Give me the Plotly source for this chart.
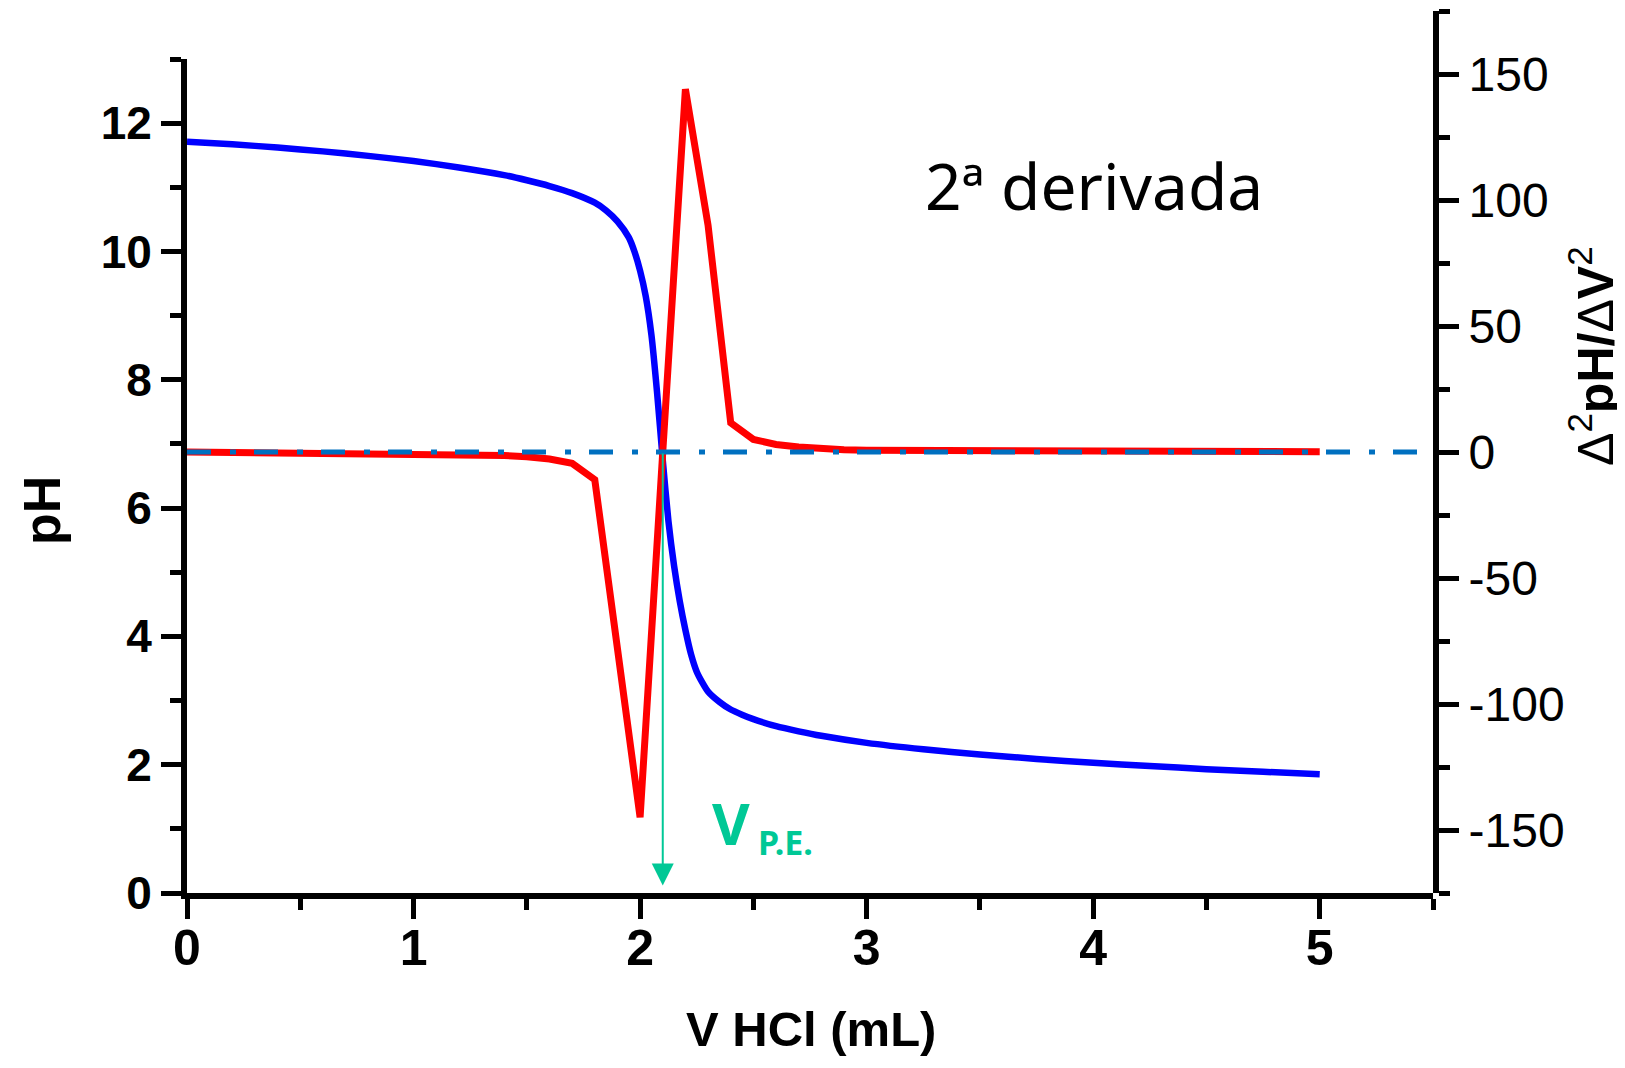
import plotly.graph_objects as go

# ---- data ----
v_ph = [0.0, 0.2, 0.4, 0.6, 0.8, 1.0, 1.2, 1.4, 1.5, 1.6, 1.7, 1.8, 1.85, 1.9, 1.95,
        1.975, 2.0, 2.025, 2.05, 2.075, 2.1, 2.125, 2.15, 2.175, 2.2, 2.225, 2.25,
        2.275, 2.3, 2.35, 2.4, 2.45, 2.5, 2.6, 2.7, 2.8, 3.0, 3.25, 3.5, 3.75, 4.0,
        4.25, 4.5, 4.75, 5.0]
ph = [11.71, 11.67, 11.62, 11.56, 11.49, 11.41, 11.31, 11.19, 11.11, 11.02, 10.91,
      10.76, 10.64, 10.47, 10.22, 10.0, 9.70, 9.30, 8.70, 7.80, 6.75, 5.80, 5.10,
      4.55, 4.10, 3.72, 3.45, 3.28, 3.14, 2.98, 2.86, 2.78, 2.71, 2.60, 2.52, 2.45,
      2.34, 2.24, 2.16, 2.09, 2.03, 1.98, 1.93, 1.89, 1.85]

v_d2 = [0.0, 0.5, 1.0, 1.2, 1.3, 1.4, 1.5, 1.6, 1.7, 1.8, 1.9, 2.0, 2.1, 2.2, 2.3,
        2.4, 2.5, 2.6, 2.7, 2.8, 2.9, 3.0, 3.5, 4.0, 4.5, 5.0]
d2 = [0.0, -0.3, -0.6, -0.9, -1.1, -1.4, -1.9, -2.8, -4.5, -11.0, -78.0, -145.0,
      0.0, 144.0, 90.0, 11.6, 5.0, 3.0, 2.0, 1.3, 0.9, 0.7, 0.4, 0.2, 0.15, 0.1]

zero_line_x = [0.0, 5.5]
zero_line_y = [0.0, 0.0]
v_pe = 2.1

x_ticks = [0, 1, 2, 3, 4, 5]
ph_ticks = [0, 2, 4, 6, 8, 10, 12]
d2_ticks = [-150, -100, -50, 0, 50, 100, 150]
d2_ticktext = ["-150", "-100", "-50", "0", "50", "100", "150"]

BLUE = "#0000FF"
RED = "#FF0000"
DASH = "#0070C0"
GREEN = "#00C896"

fig = go.Figure()

fig.add_trace(go.Scatter(x=v_ph, y=ph, mode="lines",
                         line=dict(color=BLUE, width=6.5, shape="spline", smoothing=0.6),
                         xaxis="x", yaxis="y", showlegend=False, hoverinfo="skip"))
fig.add_trace(go.Scatter(x=v_d2, y=d2, mode="lines",
                         line=dict(color=RED, width=7), xaxis="x2", yaxis="y2",
                         showlegend=False, hoverinfo="skip"))
fig.add_trace(go.Scatter(x=zero_line_x, y=zero_line_y, mode="lines",
                         line=dict(color=DASH, width=5, dash="24px,19px,6px,18px"),
                         xaxis="x2", yaxis="y2", showlegend=False, hoverinfo="skip"))

# page body has an 8px margin: figure is laid out in screen pixels minus that offset
OFF = 8
SCR_L, SCR_R, SCR_T, SCR_B = 187, 1433, 11, 893     # plot-area edges on screen
W, H = 1625 - OFF, 1068 - 2 * OFF                    # 1617 x 1052
L = SCR_L - OFF
T = SCR_T - OFF
R = W - (SCR_R - OFF)
B = H - (SCR_B - OFF)
plot_h = SCR_B - SCR_T
pw = SCR_R - SCR_L
left_top = (SCR_B - 59) / plot_h

tickfont_b = dict(family="Liberation Sans, Arial", size=50, color="black", weight="bold")
tickfont_bl = dict(family="Liberation Sans, Arial", size=46, color="black", weight="bold")
tickfont_r = dict(family="Liberation Sans, Arial", size=48, color="black")

fig.update_layout(
    width=W, height=H,
    margin=dict(l=L, r=R, t=T, b=B, pad=0),
    paper_bgcolor="white", plot_bgcolor="rgba(0,0,0,0)",
    xaxis=dict(domain=[0, 1], range=[0, 5.5], anchor="y",
               showgrid=False, zeroline=False,
               showline=True, linecolor="black", linewidth=6,
               ticks="outside", tickvals=x_ticks, ticklen=20, tickwidth=5,
               tickcolor="black", tickfont=tickfont_b, ticklabelstandoff=-14,
               minor=dict(dtick=0.5, tick0=0, ticks="outside", ticklen=11,
                          tickwidth=5, tickcolor="black")),
    yaxis=dict(domain=[0, left_top], range=[0, 13], anchor="x",
               showgrid=False, zeroline=False,
               showline=True, linecolor="black", linewidth=6,
               ticks="outside", tickvals=ph_ticks, ticklen=20, tickwidth=5,
               tickcolor="black", tickfont=tickfont_bl,
               minor=dict(dtick=1, tick0=0, ticks="outside", ticklen=11,
                          tickwidth=5, tickcolor="black")),
    xaxis2=dict(domain=[0, 1], range=[0, 5.5], anchor="y2", visible=False),
    yaxis2=dict(domain=[0, 1], range=[-175, 175], anchor="x2", side="right",
                showgrid=False, zeroline=False,
                showline=True, linecolor="black", linewidth=6,
                ticks="outside", tickvals=d2_ticks, ticktext=d2_ticktext,
                ticklen=20, tickwidth=5,
                tickcolor="black", tickfont=tickfont_r,
                minor=dict(dtick=25, tick0=0, ticks="outside", ticklen=11,
                           tickwidth=5, tickcolor="black")),
)


def px(xs):
    return (xs - SCR_L) / pw


def py(ys):
    return (SCR_B - ys) / plot_h


ann = []
ann.append(dict(text="<b>pH</b>", xref="paper", yref="paper", x=px(42), y=py(511),
                textangle=-90, showarrow=False, xanchor="center", yanchor="middle",
                font=dict(family="Liberation Sans, Arial", size=52, color="black")))
ann.append(dict(text="<b>V HCl (mL)</b>", xref="paper", yref="paper", x=px(811), y=py(1029),
                showarrow=False, xanchor="center", yanchor="middle",
                font=dict(family="Liberation Sans, Arial", size=49, color="black")))
ann.append(dict(text="Δ<sup>2</sup><b>pH/</b>Δ<b>V</b><sup>2</sup>", xref="paper", yref="paper",
                x=px(1592), y=py(356), textangle=-90, showarrow=False,
                xanchor="center", yanchor="middle",
                font=dict(family="Liberation Sans, Arial", size=50, color="black")))
ann.append(dict(text="2ª derivada", xref="paper", yref="paper", x=px(1094), y=py(186),
                showarrow=False, xanchor="center", yanchor="middle",
                font=dict(family="Noto Sans", size=64, color="black")))
ann.append(dict(text="<b>V</b>", xref="paper", yref="paper", x=px(731), y=py(822),
                showarrow=False, xanchor="center", yanchor="middle",
                font=dict(family="Noto Sans", size=58, color=GREEN)))
ann.append(dict(text="P.E.", xref="paper", yref="paper", x=px(785), y=py(842),
                showarrow=False, xanchor="center", yanchor="middle",
                font=dict(family="Noto Sans", size=34, color=GREEN, weight="bold")))
# arrow marking the equivalence volume
ann.append(dict(text="", x=v_pe, y=-172, xref="x2", yref="y2",
                ax=v_pe, ay=0, axref="x2", ayref="y2",
                showarrow=True, arrowhead=2, arrowsize=2.2, arrowwidth=2,
                arrowcolor=GREEN, standoff=0, startstandoff=0))
fig.update_layout(annotations=ann)

fig.write_html("out.html")
